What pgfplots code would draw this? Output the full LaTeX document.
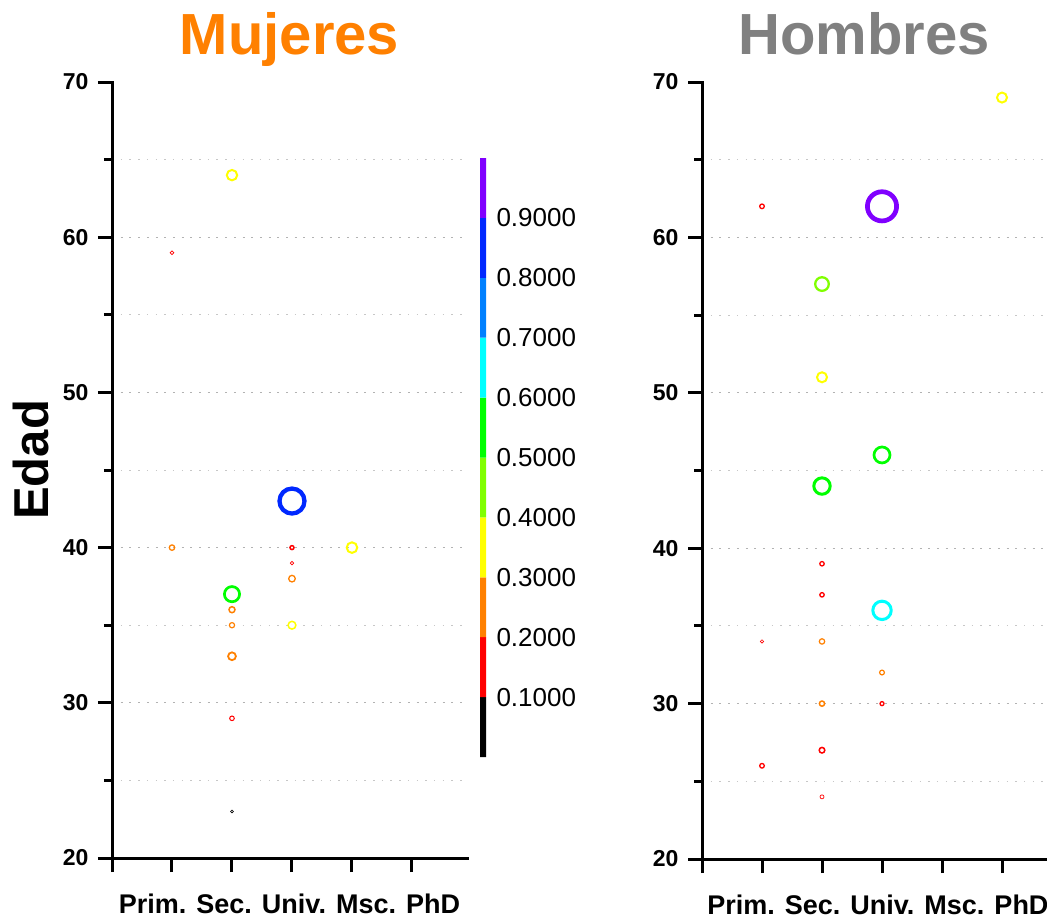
\documentclass[border=0pt]{standalone}
\usepackage{pgfplots}
\pgfplotsset{compat=1.18}
\usepackage{pgfplotstable}
\usepackage{fontspec}
\setmainfont{Liberation Sans}

\definecolor{c0}{RGB}{0,0,0}
\definecolor{c1}{RGB}{255,0,0}
\definecolor{c2}{RGB}{255,128,0}
\definecolor{c3}{RGB}{255,255,0}
\definecolor{c4}{RGB}{128,255,0}
\definecolor{c5}{RGB}{0,255,0}
\definecolor{c6}{RGB}{0,255,255}
\definecolor{c7}{RGB}{0,128,255}
\definecolor{c8}{RGB}{0,40,255}
\definecolor{c9}{RGB}{128,0,255}
\definecolor{tmuj}{RGB}{255,128,0}
\definecolor{thom}{RGB}{128,128,128}

% x: 1=Prim. 2=Sec. 3=Univ. 4=Msc. 5=PhD ; cls = colour class (0.1 steps) ; ms = mark radius ; lw = ring width
\pgfplotstableread{
x y cls ms lw
2 64 c3 5.2 2.0
1 59 c1 1.9 0.8
3 43 c8 12.5 4.3
1 40 c2 2.7 1.3
3 40 c1 2.0 1.5
4 40 c3 5.3 2.0
3 39 c1 1.7 0.7
3 38 c2 3.3 1.3
2 37 c5 7.6 2.7
2 36 c2 3.0 1.5
2 35 c2 2.6 1.2
3 35 c3 3.9 1.5
2 33 c2 3.9 1.8
2 29 c1 2.3 1.0
2 23 c0 1.4 0.6
}\mujeres

\pgfplotstableread{
x y cls ms lw
5 69 c3 5.0 2.0
1 62 c1 2.3 1.3
3 62 c9 14.6 4.7
2 57 c4 6.8 2.3
2 51 c3 5.0 2.0
3 46 c5 8.0 2.7
2 44 c5 8.2 3.0
2 39 c1 2.2 1.3
2 37 c1 2.2 1.3
3 36 c6 9.2 3.0
1 34 c1 1.7 0.6
2 34 c2 2.7 1.2
3 32 c2 2.4 1.2
2 30 c2 2.6 1.5
3 30 c1 2.0 1.3
2 27 c1 2.8 1.5
1 26 c1 2.3 1.3
2 24 c1 2.0 0.7
}\hombres

\pgfplotsset{
  panel/.style={
    scale only axis,
    axis lines=left,
    axis line style={-, line width=3pt, line cap=rect},
    ymin=20, ymax=70, xmin=0,
    ytick={20,30,...,60},
    extra y ticks={70},
    extra y tick style={ymajorgrids=false},
    minor ytick={25,35,...,65},
    xtick={0,1,2,3,4,5},
    xticklabels={},
    tick align=outside,
    major tick length=14pt,
    minor tick length=8pt,
    every tick/.style={black, line width=3pt},
    ymajorgrids, yminorgrids,
    major grid style={black!30, line width=1pt, dash pattern=on 2pt off 6.7pt},
    minor grid style={black!22, line width=1pt, dash pattern=on 1.5pt off 7.2pt},
    tick label style={font=\fontsize{23}{23}\selectfont\bfseries},
    yticklabel style={xshift=-6pt},
    /pgf/number format/assume math mode=true,
    xlabel={Prim. Sec. Univ. Msc. PhD},
    xlabel style={font=\fontsize{27}{27}\selectfont\bfseries, at={(axis description cs:0.5,0)}, anchor=base, yshift=-55pt},
    title style={font=\fontsize{58}{58}\selectfont\bfseries, anchor=base, yshift=22pt},
    clip=false,
  },
  pts/.style={
    scatter, only marks, mark=o,
    scatter src=explicit symbolic,
    scatter/classes={
      c0={draw=c0}, c1={draw=c1}, c2={draw=c2}, c3={draw=c3}, c4={draw=c4},
      c5={draw=c5}, c6={draw=c6}, c7={draw=c7}, c8={draw=c8}, c9={draw=c9}},
    visualization depends on={\thisrow{ms} \as \msz},
    visualization depends on={\thisrow{lw} \as \lwd},
    scatter/@pre marker code/.append style={/tikz/mark size=\msz pt},
    scatter/@pre marker code/.append code={\pgfsetlinewidth{\lwd pt}},
  },
}

\begin{document}
\begin{tikzpicture}
\path[use as bounding box] (0,0) rectangle (1047pt,-919pt);

% Mujeres
\begin{axis}[panel,
  at={(112pt,-858pt)}, anchor=south west,
  width=355pt, height=776pt, xmax=5.917,
  title={Mujeres}, title style={color=tmuj, at={(axis description cs:0.5,1)}},
  ylabel={Edad},
  ylabel style={font=\fontsize{49}{49}\selectfont\bfseries, at={(axis description cs:-0.228,0.513)}, anchor=center},
]
\addplot[pts] table[x=x, y=y, meta=cls] {\mujeres};
\end{axis}

% colour bar
\begin{axis}[
  at={(480pt,-757pt)}, anchor=south west,
  scale only axis, width=6pt, height=599pt,
  xmin=0, xmax=1, ymin=0, ymax=1,
  hide x axis,
  y axis line style={draw=none},
  ytick={0.1,0.2,0.3,0.4,0.5,0.6,0.7,0.8,0.9},
  yticklabels={0.1000,0.2000,0.3000,0.4000,0.5000,0.6000,0.7000,0.8000,0.9000},
  yticklabel pos=right,
  major tick length=0pt,
  ytick style={draw=none},
  yticklabel style={font=\fontsize{26}{26}\selectfont, xshift=7pt},
]
\addplot[fill=c0, draw=none] coordinates {(0,0) (1,0) (1,0.1) (0,0.1) (0,0)};
\addplot[fill=c1, draw=none] coordinates {(0,0.1) (1,0.1) (1,0.2) (0,0.2) (0,0.1)};
\addplot[fill=c2, draw=none] coordinates {(0,0.2) (1,0.2) (1,0.3) (0,0.3) (0,0.2)};
\addplot[fill=c3, draw=none] coordinates {(0,0.3) (1,0.3) (1,0.4) (0,0.4) (0,0.3)};
\addplot[fill=c4, draw=none] coordinates {(0,0.4) (1,0.4) (1,0.5) (0,0.5) (0,0.4)};
\addplot[fill=c5, draw=none] coordinates {(0,0.5) (1,0.5) (1,0.6) (0,0.6) (0,0.5)};
\addplot[fill=c6, draw=none] coordinates {(0,0.6) (1,0.6) (1,0.7) (0,0.7) (0,0.6)};
\addplot[fill=c7, draw=none] coordinates {(0,0.7) (1,0.7) (1,0.8) (0,0.8) (0,0.7)};
\addplot[fill=c8, draw=none] coordinates {(0,0.8) (1,0.8) (1,0.9) (0,0.9) (0,0.8)};
\addplot[fill=c9, draw=none] coordinates {(0,0.9) (1,0.9) (1,1) (0,1) (0,0.9)};
\end{axis}

% Hombres
\begin{axis}[panel,
  at={(702pt,-859pt)}, anchor=south west,
  width=345pt, height=777pt, xmax=5.75,
  title={Hombres}, title style={color=thom, at={(axis description cs:0.47,1)}},
  xlabel style={at={(axis description cs:0.51,0)}},
]
\addplot[pts] table[x=x, y=y, meta=cls] {\hombres};
\end{axis}
\end{tikzpicture}
\end{document}
